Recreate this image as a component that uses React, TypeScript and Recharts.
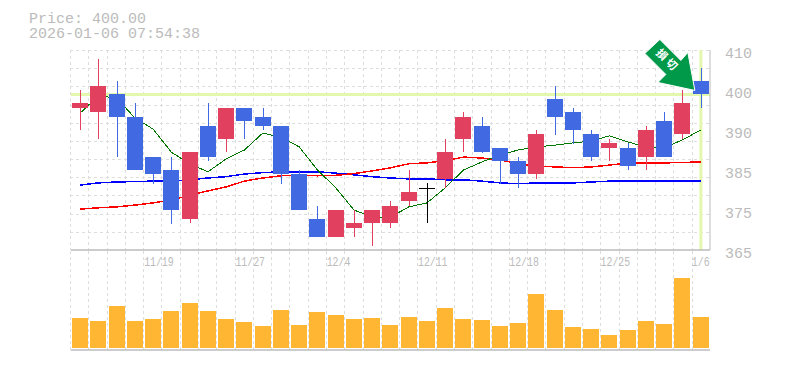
import { Bar, CartesianGrid, ComposedChart, Line, ReferenceDot, ReferenceLine, XAxis, YAxis } from "recharts"

const dates = [
  "11/13", "11/14", "11/17", "11/18", "11/19", "11/20", "11/21", "11/25", "11/26", "11/27", "11/28", "12/1",
  "12/2", "12/3", "12/4", "12/5", "12/8", "12/9", "12/10", "12/11", "12/12", "12/15", "12/16", "12/17",
  "12/18", "12/19", "12/22", "12/23", "12/24", "12/25", "12/26", "12/29", "12/30", "1/5", "1/6",
]
const opens = [397, 396, 400, 395, 386, 383, 372, 393, 390, 397, 395, 393, 382, 372, 368, 370, 371, 371, 376, 379, 381, 390, 393, 388, 385, 382, 399, 396, 391, 388, 388, 386, 394, 391, 403]
const closes = [398, 402, 395, 383, 382, 374, 387, 386, 397, 394, 393, 382, 374, 368, 374, 371, 374, 375, 378, 379, 387, 395, 387, 385, 382, 391, 395, 392, 386, 389, 384, 392, 386, 398, 400]
const highs = [401, 408, 403, 398, 386, 386, 387, 398, 397, 397, 397, 393, 383, 375, 374, 374, 374, 376, 383, 380, 390, 396, 395, 388, 386, 392, 402, 397, 392, 390, 389, 393, 396, 401, 406]
const lows = [392, 390, 386, 383, 380, 371, 371, 385, 387, 390, 392, 380, 374, 368, 368, 368, 366, 370, 375, 371, 379, 387, 387, 380, 379, 381, 391, 389, 385, 385, 383, 383, 386, 390, 397]
const maShort = [395.8, 399.7, 399.2, 394.7, 392.2, 387, 384.4, 382.6, 385.5, 387.5, 391.3, 390.4, 388.2, 383, 379, 374, 372.4, 372.4, 374.7, 375.6, 379, 383, 384.8, 386.4, 387.5, 388.2, 388.6, 389.1, 389.5, 390.7, 389.3, 388.2, 388, 389.8, 392]
const maMid = [374.2, 374.5, 374.7, 375.1, 375.6, 376.3, 377.3, 378.3, 379.2, 380.5, 381.2, 381.7, 381.9, 381.7, 381.8, 382.2, 382.8, 383.5, 384.4, 384.6, 385.1, 385.9, 385.7, 385.3, 384.4, 383.9, 383.7, 383.5, 383.7, 384.1, 384.6, 384.6, 384.6, 384.7, 384.8]
const maLong = [379.6, 380.1, 380.3, 380.4, 380.5, 380.5, 380.8, 381.2, 381.5, 382.1, 382.4, 382.6, 382.6, 382.6, 382.3, 381.9, 381.5, 381.2, 381, 381, 380.8, 380.8, 380.5, 380.1, 379.9, 380.1, 380.1, 380.1, 380.3, 380.5, 380.5, 380.5, 380.5, 380.5, 380.5]
const volumes = [30, 27, 42, 27, 29, 37, 45, 37, 29, 26, 22, 38, 23, 36, 33, 29, 30, 23, 31, 27, 40, 29, 28, 22, 25, 55, 38, 21, 19, 13, 18, 27, 24, 71, 31]

const priceTicks = [365, 374, 383, 392, 401, 410]
const priceTickLabels = ["365", "375", "385", "390", "400", "410"]
const labelledDates = ["11/19", "11/27", "12/4", "12/11", "12/18", "12/25", "1/6"]
const currentPrice = 400

const rows = dates.map((date, i) => ({
  date,
  open: opens[i],
  close: closes[i],
  high: highs[i],
  low: lows[i],
  range: [lows[i], highs[i]],
  maShort: maShort[i],
  maMid: maMid[i],
  maLong: maLong[i],
  volume: volumes[i],
}))

const FONT = "'Liberation Mono', monospace"
const TEXT = "#bbbbbb"
const GRID = "#dddddd"
const LIME = "#e3f7ad"
const UP = "#e2405f"
const DOWN = "#4169e1"
const ARROW = "#00994a"

const GRID_LEFT = 70
const GRID_WIDTH = 640
const bandEdges = dates.map((_, i) => Math.round(GRID_LEFT + (i * GRID_WIDTH) / dates.length) + 0.5)

function Candle(props: any) {
  const { x, y, width, height, payload } = props
  const perUnit = height / (payload.high - payload.low)
  const yOf = (v: number) => y + (payload.high - v) * perUnit
  const color = payload.close > payload.open ? UP : payload.close < payload.open ? DOWN : "#000000"
  const left = Math.round(x)
  const top = Math.round(yOf(Math.max(payload.open, payload.close)))
  const bottom = Math.round(yOf(Math.min(payload.open, payload.close)))
  return (
    <g>
      <rect x={left + Math.floor(width / 2)} y={Math.round(y)} width={1} height={Math.round(height)} fill={color} />
      <rect x={left} y={top} width={width} height={Math.max(bottom - top, 1)} fill={color} />
    </g>
  )
}

function VolumeBar(props: any) {
  const { x, y, width, height } = props
  return <rect x={Math.round(x)} y={Math.round(y)} width={width} height={Math.round(height)} fill="#ffb733" />
}

function ArrowMark(props: any) {
  // placed relative to the last candle
  const { cx, cy } = props
  const pts = [[-41, -55], [-20, -34], [-13, -42], [-6, -4], [-43, -12], [-35, -20], [-56, -41]]
  return (
    <g>
      <polygon
        points={pts.map(([a, b]) => `${cx + a},${cy + b}`).join(" ")}
        fill={ARROW}
        stroke="#ffffff"
        strokeWidth={1}
      />
      <g transform={`translate(${cx - 34},${cy - 35}) rotate(45)`}>
        <text x={-7} y={4} fontSize={11} fontWeight={700} fill="#ffffff" textAnchor="middle" fontFamily="'Noto Sans CJK JP'">
          損
        </text>
        <text x={7} y={4} fontSize={11} fontWeight={700} fill="#ffffff" textAnchor="middle" fontFamily="'Noto Sans CJK JP'">
          切
        </text>
      </g>
    </g>
  )
}

function DateTick(props: any) {
  const { x, payload } = props
  if (!labelledDates.includes(payload.value)) return null
  return (
    <text
      x={x - 9}
      y={16}
      fontSize={12}
      fill={TEXT}
      fontFamily={FONT}
      textLength={payload.value.length * 5.9}
      lengthAdjust="spacingAndGlyphs"
    >
      {payload.value}
    </text>
  )
}

export default function App() {
  return (
    <div style={{ position: "absolute", left: 0, top: 0, width: 785, height: 370, background: "#fff" }}>
      <div style={{ position: "absolute", left: 29, top: 12, fontFamily: FONT, fontSize: 15, lineHeight: "15px", color: TEXT, whiteSpace: "pre" }}>
        {"Price: 400.00\n2026-01-06 07:54:38"}
      </div>
      <div style={{ position: "absolute", left: 0, top: 250 }}>
        <ComposedChart width={785} height={102} data={rows} margin={{ top: 0, right: 75, bottom: 2, left: 71 }}>
          <CartesianGrid
            x={GRID_LEFT}
            width={GRID_WIDTH}
            stroke={GRID}
            strokeDasharray="3 3"
            horizontal={false}
            verticalCoordinatesGenerator={() => bandEdges}
          />
          <XAxis dataKey="date" orientation="top" height={1} interval={0} axisLine={false} tickLine={false} tick={DateTick} />
          <YAxis domain={[-2, 98]} hide />
          <ReferenceLine y={-2} stroke="#bbbbbb" strokeWidth={1.5} />
          <Bar dataKey="volume" barSize={16} shape={VolumeBar} isAnimationActive={false} />
        </ComposedChart>
      </div>
      <div style={{ position: "absolute", left: 0, top: 0 }}>
        <ComposedChart width={785} height={351} data={rows} margin={{ top: 50, right: 0, bottom: 100, left: 71 }}>
          <CartesianGrid
            x={GRID_LEFT}
            width={GRID_WIDTH}
            stroke={GRID}
            strokeDasharray="3 3"
            horizontalCoordinatesGenerator={() => Array.from({ length: 11 }, (_, i) => Math.round(50 + (i * 200) / 11) + 0.5)}
            verticalCoordinatesGenerator={() => bandEdges}
          />
          <XAxis
            dataKey="date"
            height={1}
            axisLine={{ stroke: "#bbbbbb", strokeWidth: 1.5 }}
            tickLine={false}
            tick={false}
          />
          <YAxis
            orientation="right"
            domain={[365, 410]}
            ticks={priceTicks}
            width={75}
            interval={0}
            axisLine={{ stroke: "#bbbbbb", strokeWidth: 1 }}
            tickLine={false}
            tickMargin={9}
            tick={{ fontSize: 15, fill: TEXT, fontFamily: FONT, dy: 3 }}
            tickFormatter={(v: number) => priceTickLabels[priceTicks.indexOf(v)]}
          />
          <ReferenceLine y={currentPrice} stroke={LIME} strokeWidth={3} zIndex={100} />
          <ReferenceLine x="1/6" stroke={LIME} strokeWidth={3} zIndex={100} />
          <Line dataKey="maLong" stroke="#0000ff" strokeWidth={1.5} shapeRendering="crispEdges" dot={false} isAnimationActive={false} zIndex={200} />
          <Line dataKey="maMid" stroke="#ff0000" strokeWidth={1.5} shapeRendering="crispEdges" dot={false} isAnimationActive={false} zIndex={201} />
          <Line dataKey="maShort" stroke="#007700" strokeWidth={1} shapeRendering="crispEdges" dot={false} isAnimationActive={false} zIndex={202} />
          <Bar dataKey="range" barSize={16} shape={Candle} isAnimationActive={false} zIndex={300} />
          <ReferenceDot x="1/6" y={currentPrice} r={0} shape={ArrowMark} zIndex={400} />
        </ComposedChart>
      </div>
    </div>
  )
}
